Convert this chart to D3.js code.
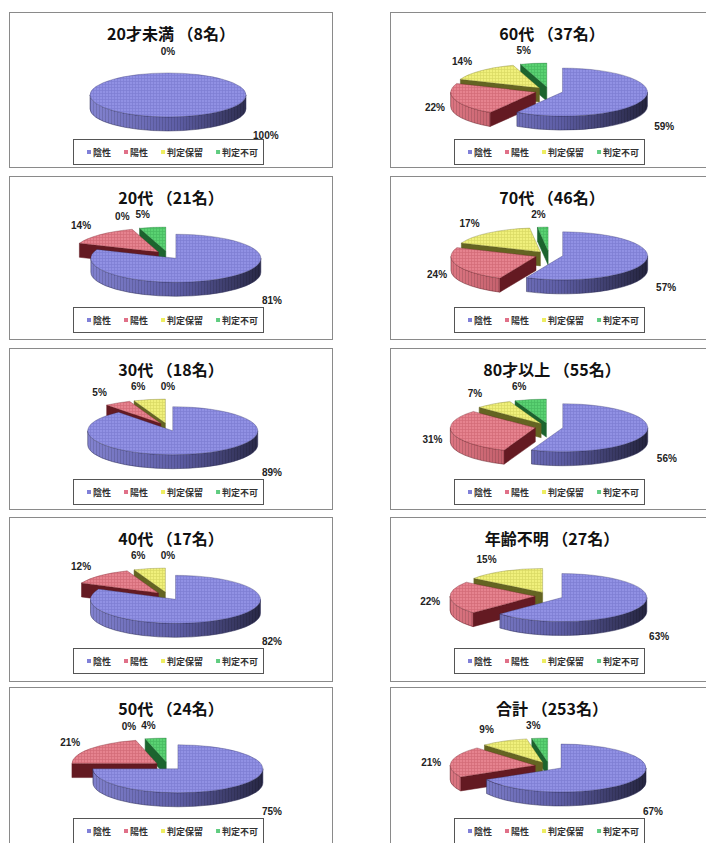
<!DOCTYPE html>
<html><head><meta charset="utf-8">
<script src="https://cdn.jsdelivr.net/npm/d3@7"></script>
<style>
html,body{margin:0;padding:0;background:#fff;}
svg{display:block;font-family:"Noto Sans CJK JP","Noto Sans",sans-serif;}
</style></head>
<body>
<svg id="chart" width="706" height="843"></svg>
<script>
// ---- data ----
const categories = ["陰性","陽性","判定保留","判定不可"];
const chartTitles = ["20才未満 （8名）","20代 （21名）","30代 （18名）","40代 （17名）","50代 （24名）",
                     "60代 （37名）","70代 （46名）","80才以上 （55名）","年齢不明 （27名）","合計 （253名）"];
// percentage per chart (category order); null = no data label shown
const negative     = [100, 81, 89, 82, 75, 59, 57, 56, 63, 67];
const positive     = [  0, 14,  5, 12, 21, 22, 24, 31, 22, 21];
const pending      = [  0,  0,  6,  6,  0, 14, 17,  7, 15,  9];
const undetermined = [  0,  5,  0,  0,  4,  5,  2,  6, null, 3];

// ---- styles ----
const topColors   = ["#9191e4","#e6838f","#f0f07c","#5ad272"];
const gridColors  = ["#6c6cc4","#c25462","#c6c650","#3aa852"];
const wallDark    = ["#30305a","#641a22","#646422","#1c642e"];
const gradStops   = [["#8a8ad8","#5e5ea6","#24243e"],["#dc7682","#aa4a56","#4e1418"],
                     ["#dede68","#a8a846","#4e4e18"],["#4ec666","#2e8c44","#154a20"]];
const legendColors= ["#8080d8","#e07088","#eeee60","#60cc80"];
const color = d3.scaleOrdinal(categories, topColors);

const svg = d3.select("#chart");
const defs = svg.append("defs");
categories.forEach((c,k)=>{
  const p = defs.append("pattern").attr("id","pat"+k).attr("patternUnits","userSpaceOnUse")
    .attr("width",3).attr("height",3);
  p.append("rect").attr("width",3).attr("height",3).attr("fill",color(c));
  p.append("path").attr("d","M0.5,0V3M0,0.5H3").attr("stroke",gridColors[k])
    .attr("stroke-width",0.7).attr("opacity",0.55);
});
const wt = defs.append("pattern").attr("id","wallTex").attr("patternUnits","userSpaceOnUse")
  .attr("width",3).attr("height",3);
wt.append("path").attr("d","M0.5,0V3").attr("stroke","#000").attr("stroke-width",0.7).attr("opacity",0.18);

// ---- layout ----
const colX = [9, 390], rowY = [12, 176, 348, 517, 687], panelH = [155, 163, 161, 164, 170], panelW = 323;
const legendTop = [127, 131, 131, 131, 131];
const rxBase = 85, ryBase = 24, depth = 14, explode = 14;
const deg = Math.PI/180, EPS = 1e-6;

chartTitles.forEach((title,i)=>{
  const col = Math.floor(i/5), row = i%5;
  const px = colX[col], py = rowY[row], ph = panelH[row];
  const g = svg.append("g");
  g.append("rect").attr("x",px+0.5).attr("y",py+0.5).attr("width",panelW).attr("height",ph)
    .attr("fill","#fff").attr("stroke","#8a8a8a").attr("stroke-width",1);
  g.append("text").attr("x",px+162).attr("y",py+21).attr("text-anchor","middle")
    .attr("dominant-baseline","central").attr("font-size",16).attr("font-weight",700)
    .attr("fill","#111").text(title);

  const vals = [negative[i], positive[i], pending[i], undetermined[i]];
  const data = vals.map((v,k)=>({k, name:categories[k], v: v==null?0:v, label: v==null?null: v+"%"}));
  const arcs = d3.pie().sort(null).value(d=>d.v)(data);
  const nonzero = data.filter(d=>d.v>0).length;
  const rx = nonzero>1 ? rxBase : 78, ry = rx*ryBase/rxBase;
  const cx = px+159, cy = py+79;
  const P = (X,Y,a)=>[X+rx*Math.sin(a), Y-ry*Math.cos(a)];

  categories.forEach((c,k)=>{
    const gr = defs.append("linearGradient").attr("id",`gr${i}_${k}`).attr("gradientUnits","userSpaceOnUse")
      .attr("x1",cx-rx-explode).attr("x2",cx+rx+explode).attr("y1",0).attr("y2",0);
    gr.append("stop").attr("offset","0%").attr("stop-color",gradStops[k][0]);
    gr.append("stop").attr("offset","55%").attr("stop-color",gradStops[k][1]);
    gr.append("stop").attr("offset","100%").attr("stop-color",gradStops[k][2]);
  });

  const walls=[], outers=[], tops=[];
  arcs.forEach(a=>{
    const s=a.startAngle, e=a.endAngle, k=a.data.k;
    if(e-s < 1e-9) return;
    const mid=(s+e)/2;
    const X = cx + explode*Math.sin(mid), Y = cy - explode*(ry/rx)*Math.cos(mid);
    let dTop;
    if(e-s >= 2*Math.PI-EPS){
      const p1=P(X,Y,0), p2=P(X,Y,Math.PI);
      dTop=`M${p1}A${rx},${ry} 0 1 1 ${p2}A${rx},${ry} 0 1 1 ${p1}Z`;
    } else {
      const p1=P(X,Y,s), p2=P(X,Y,e);
      dTop=`M${X},${Y}L${p1}A${rx},${ry} 0 ${e-s>Math.PI?1:0} 1 ${p2}Z`;
    }
    tops.push({k,d:dTop});
    const a0=Math.max(s,Math.PI/2), a1=Math.min(e,3*Math.PI/2);
    if(a1>a0){
      const q0=P(X,Y,a0), q1=P(X,Y,a1);
      outers.push({k, z:Y, d:`M${q0}A${rx},${ry} 0 0 1 ${q1}L${q1[0]},${q1[1]+depth}A${rx},${ry} 0 0 0 ${q0[0]},${q0[1]+depth}Z`});
    }
    [[s, Math.sin(s)<-EPS],[e, Math.sin(e)>EPS]].forEach(([ang,vis])=>{
      if(!vis) return;
      const q=P(X,Y,ang);
      walls.push({k, z:(Y+q[1])/2, d:`M${X},${Y}L${q}L${q[0]},${q[1]+depth}L${X},${Y+depth}Z`});
    });
  });
  walls.sort((a,b)=>a.z-b.z); outers.sort((a,b)=>a.z-b.z);
  const pg = g.append("g");
  walls.forEach(w=>{
    pg.append("path").attr("d",w.d).attr("fill",wallDark[w.k]).attr("stroke",wallDark[w.k]).attr("stroke-width",0.5);
  });
  outers.forEach(o=>{
    pg.append("path").attr("d",o.d).attr("fill",`url(#gr${i}_${o.k})`).attr("stroke",wallDark[o.k]).attr("stroke-width",0.5);
    pg.append("path").attr("d",o.d).attr("fill","url(#wallTex)");
  });
  tops.forEach(t=>{
    pg.append("path").attr("d",t.d).attr("fill",`url(#pat${t.k})`).attr("stroke",wallDark[t.k])
      .attr("stroke-width",0.5).attr("stroke-opacity",0.6);
  });

  // data labels
  const A = rx+35, B = ry+20;
  let labels=[];
  arcs.forEach(a=>{
    if(a.data.label==null) return;
    const mid=(a.startAngle+a.endAngle)/2;
    let th=mid, x, y;
    if(th>90*deg && th<=Math.PI+EPS){
      th=Math.min(th,120*deg);
      x = cx + A*Math.sin(th);
      y = cy - B*Math.cos(th) + 3 + depth + 6;
    } else {
      if(th>Math.PI+EPS && th<240*deg) th=240*deg;
      const ex = rx*Math.sin(th), ey = -ry*Math.cos(th), n = Math.hypot(ex,ey);
      x = cx + explode*Math.sin(mid) + ex + 20*ex/n;
      y = cy - B*Math.cos(th) + 3;
    }
    if(labels.some(l=>l.text===a.data.label && Math.abs(l.x-x)<2 && Math.abs(l.y-y)<2)) return;
    labels.push({x,y,text:a.data.label});
  });
  const lg0 = g.append("g");
  labels.forEach(l=>{
    l.node = lg0.append("text").attr("text-anchor","middle").attr("dominant-baseline","central")
      .attr("font-family","'Liberation Sans',Arial,sans-serif").attr("font-size",10).attr("font-weight",700)
      .attr("fill","#222").text(l.text);
    l.w = l.node.node().getComputedTextLength();
  });
  for(let it=0; it<20; it++){
    labels.sort((a,b)=>a.x-b.x);
    for(let j=0;j<labels.length-1;j++){
      const a=labels[j], b=labels[j+1];
      if(Math.abs(a.y-b.y)<11){
        const need=(a.w+b.w)/2+5 - (b.x-a.x);
        if(need>0){ a.x-=need/2; b.x+=need/2; }
      }
    }
  }
  labels.forEach(l=>l.node.attr("x",l.x).attr("y",l.y));

  // legend
  const lg = g.append("g").attr("transform",`translate(${px+64},${py+legendTop[row]})`);
  lg.append("rect").attr("x",0.5).attr("y",0.5).attr("width",190).attr("height",25)
    .attr("fill","#fff").attr("stroke","#555");
  let lx=14;
  categories.forEach((c,k)=>{
    lg.append("rect").attr("x",lx).attr("y",11).attr("width",4).attr("height",4).attr("fill",legendColors[k]);
    const t = lg.append("text").attr("x",lx+6).attr("y",13.5).attr("dominant-baseline","central")
      .attr("font-size",9).attr("font-weight",700).attr("fill","#333").text(c);
    lx += 6 + t.node().getComputedTextLength() + 13;
  });
});
</script>
</body></html>
